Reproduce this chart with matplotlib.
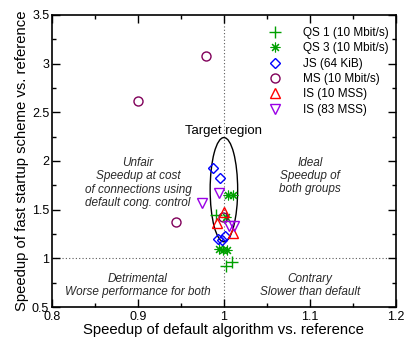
import matplotlib
matplotlib.use("Agg")
import matplotlib.pyplot as plt
from matplotlib.patches import Ellipse
from matplotlib.ticker import MultipleLocator, FuncFormatter

plt.rcParams['font.family'] = ['Liberation Sans', 'DejaVu Sans']

# speedup of default algorithm (x) vs. speedup of fast startup scheme (y)
qs1_x = [0.991, 1.002, 1.009]
qs1_y = [1.45, 0.92, 0.96]
qs3_x = [1.005, 1.011, 1.003, 0.994, 0.999, 1.004]
qs3_y = [1.65, 1.65, 1.42, 1.10, 1.09, 1.09]
js_x = [0.987, 0.995, 0.993, 0.998, 1.001]
js_y = [1.93, 1.82, 1.20, 1.19, 1.23]
ms_x = [0.900, 0.979, 0.944, 0.999]
ms_y = [2.62, 3.08, 1.37, 1.42]
is10_x = [1.000, 0.992, 1.010]
is10_y = [1.48, 1.36, 1.26]
is83_x = [0.994, 0.974, 1.006, 1.012]
is83_y = [1.67, 1.57, 1.33, 1.33]

series = [
    ("QS 1 (10 Mbit/s)", qs1_x, qs1_y, "+", "#00a000", 8, 1.0),
    ("QS 3 (10 Mbit/s)", qs3_x, qs3_y, (8, 2, 0), "#00a000", 7, 0.8),
    ("JS (64 KiB)", js_x, js_y, "D", "#0000ff", 5, 1.0),
    ("MS (10 Mbit/s)", ms_x, ms_y, "o", "#80005a", 6.5, 1.0),
    ("IS (10 MSS)", is10_x, is10_y, "^", "#ff0000", 7, 1.0),
    ("IS (83 MSS)", is83_x, is83_y, "v", "#9a00e6", 7, 1.0),
]

fig = plt.figure(figsize=(4.06, 3.45), dpi=100)
ax = fig.add_axes([0.128, 0.110, 0.847, 0.847])

ax.axvline(1.0, color="0.35", lw=0.8, ls=(0, (1, 2)), zorder=1)
ax.axhline(1.0, color="0.35", lw=0.8, ls=(0, (1, 2)), zorder=1)

for label, xs, ys, mk, col, ms, mew in series:
    ax.plot(xs, ys, ls="none", marker=mk, ms=ms, mfc="none", mec=col,
            mew=mew, label=label, zorder=3)

ax.add_patch(Ellipse((1.0, 1.705), 0.032, 1.07, fill=False, ec="black",
                     lw=1.0, zorder=2))
ax.text(1.0, 2.31, "Target region", ha="center", va="center", fontsize=9.5)

quad = dict(ha="center", va="center", fontsize=8.5, style="italic",
            color="#2a2a2a", linespacing=1.15)
ax.text(0.9, 1.775, "Unfair\nSpeedup at cost\nof connections using\ndefault cong. control", **quad)
ax.text(1.1, 1.845, "Ideal\nSpeedup of\nboth groups", **quad)
ax.text(0.9, 0.72, "Detrimental\nWorse performance for both", **quad)
ax.text(1.1, 0.72, "Contrary\nSlower than default", **quad)

ax.set_xlim(0.8, 1.2)
ax.set_ylim(0.5, 3.5)
ax.xaxis.set_major_locator(MultipleLocator(0.1))
ax.xaxis.set_minor_locator(MultipleLocator(0.05))
ax.yaxis.set_major_locator(MultipleLocator(0.5))
ax.yaxis.set_minor_locator(MultipleLocator(0.25))
fmt = FuncFormatter(lambda v, p: "%g" % round(v, 3))
ax.xaxis.set_major_formatter(fmt)
ax.yaxis.set_major_formatter(fmt)
ax.tick_params(which="both", direction="in", top=True, right=True,
               labelsize=9, width=1.0)
ax.tick_params(axis="x", pad=3)
ax.tick_params(axis="y", pad=2)
ax.tick_params(which="major", length=6)
ax.tick_params(which="minor", length=3)
for s in ax.spines.values():
    s.set_linewidth(1.2)

ax.set_xlabel("Speedup of default algorithm vs. reference", fontsize=10.7, labelpad=0)
ax.set_ylabel("Speedup of fast startup scheme vs. reference", fontsize=10.7, labelpad=2)

ax.legend(loc="upper left", bbox_to_anchor=(0.629, 0.958), frameon=False,
          fontsize=8.5, handlelength=1.2, handletextpad=1.7,
          labelspacing=0.28, borderpad=0, borderaxespad=0)

fig.savefig("out.png", dpi=100)
